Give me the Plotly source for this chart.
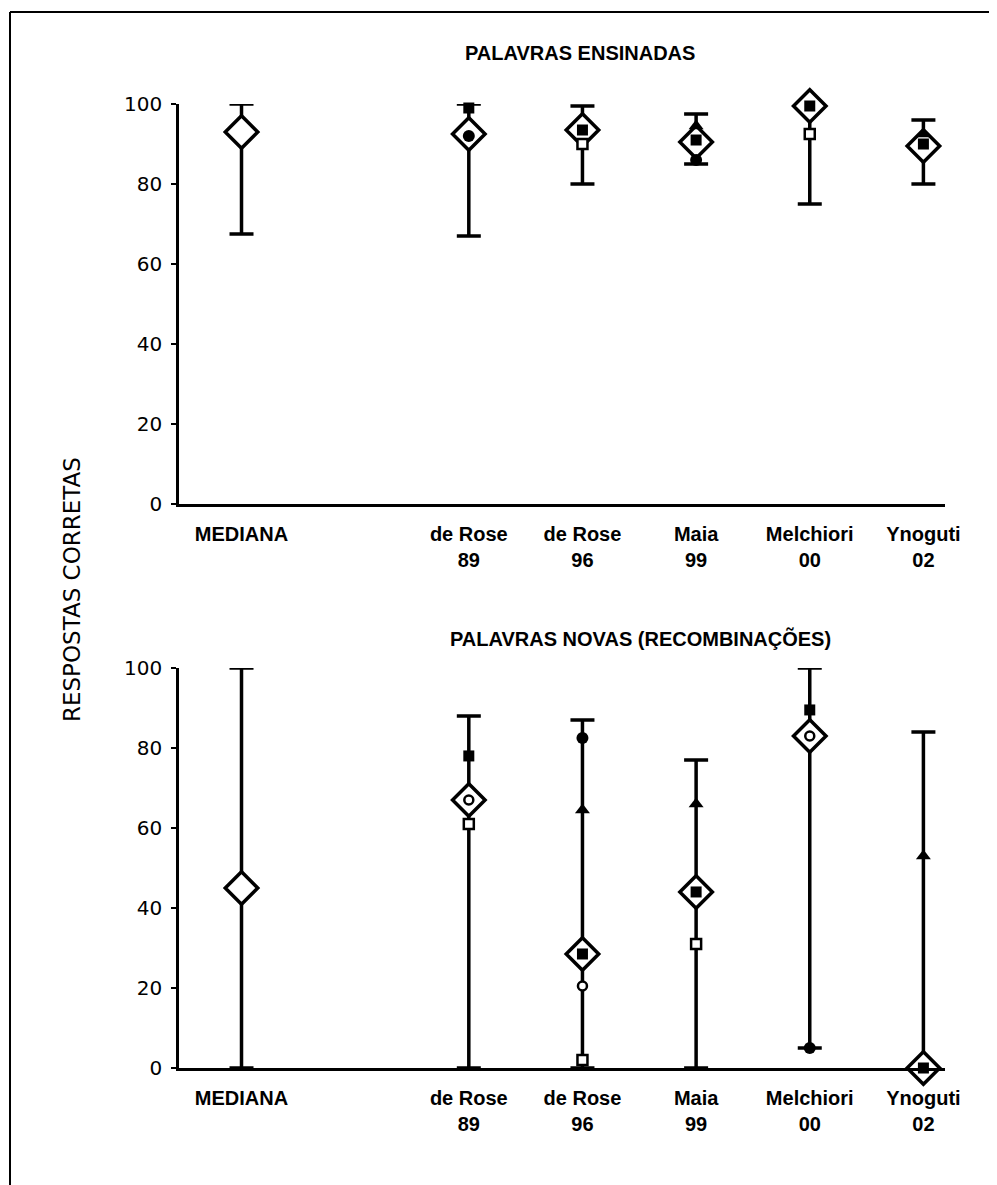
import plotly.graph_objects as go
from plotly.subplots import make_subplots

categories = ["MEDIANA", "de Rose<br>89", "de Rose<br>96", "Maia<br>99", "Melchiori<br>00", "Ynoguti<br>02"]
category_order = ["MEDIANA", " ", "de Rose<br>89", "de Rose<br>96", "Maia<br>99", "Melchiori<br>00", "Ynoguti<br>02"]

# Panel 1: PALAVRAS ENSINADAS
taught_low = [67.5, 67, 80, 85, 75, 80]
taught_high = [100, 100, 99.5, 97.5, 100, 96]
taught_median = [93, 92.5, 93.5, 90.5, 99.5, 89.5]
taught_fsquare = [None, 99, 93.5, 91, 99.5, 90]
taught_fcircle = [None, 92, None, 86, None, None]
taught_triangle = [None, None, None, 94.5, None, 92.5]
taught_osquare = [None, None, 90, None, 92.5, None]
taught_ocircle = [None, None, None, None, None, None]

# Panel 2: PALAVRAS NOVAS (RECOMBINAÇÕES)
new_low = [0, 0, 0, 0, 5, 0]
new_high = [100, 88, 87, 77, 100, 84]
new_median = [45, 67, 28.5, 44, 83, 0]
new_fsquare = [None, 78, 28.5, 44, 89.5, 0]
new_fcircle = [None, None, 82.5, None, 5, None]
new_triangle = [None, None, 64.5, 66, None, 53]
new_osquare = [None, 61, 2, 31, None, None]
new_ocircle = [None, 67, 20.5, None, 83, None]

yticks = [0, 20, 40, 60, 80, 100]

FONT = "Liberation Sans, Arial, sans-serif"
FONT_B = "Liberation Sans, Arial, sans-serif"
TICKFONT = "DejaVu Sans, sans-serif"

fig = make_subplots(rows=2, cols=1, vertical_spacing=0.17)

def add_panel(row, low, high, median, fsq, fci, tri, osq, oci):
    fig.add_trace(go.Scatter(
        x=categories, y=low, mode="markers",
        marker=dict(size=1, color="rgba(0,0,0,0)"),
        error_y=dict(type="data", symmetric=False,
                     array=[h - l for h, l in zip(high, low)],
                     arrayminus=[0] * len(low),
                     width=12, thickness=3.5, color="black"),
        cliponaxis=False, showlegend=False, hoverinfo="skip"), row=row, col=1)
    fig.add_trace(go.Scatter(
        x=categories, y=median, mode="markers",
        marker=dict(symbol="diamond", size=25, color="white",
                    line=dict(color="black", width=3.5)),
        cliponaxis=False, showlegend=False), row=row, col=1)
    fig.add_trace(go.Scatter(
        x=categories, y=fsq, mode="markers",
        marker=dict(symbol="square", size=11, color="black"),
        cliponaxis=False, showlegend=False), row=row, col=1)
    fig.add_trace(go.Scatter(
        x=categories, y=fci, mode="markers",
        marker=dict(symbol="circle", size=12, color="black"),
        cliponaxis=False, showlegend=False), row=row, col=1)
    fig.add_trace(go.Scatter(
        x=categories, y=tri, mode="markers",
        marker=dict(symbol="triangle-up", size=13, color="black"),
        cliponaxis=False, showlegend=False), row=row, col=1)
    fig.add_trace(go.Scatter(
        x=categories, y=osq, mode="markers",
        marker=dict(symbol="square", size=10, color="white",
                    line=dict(color="black", width=2.5)),
        cliponaxis=False, showlegend=False), row=row, col=1)
    fig.add_trace(go.Scatter(
        x=categories, y=oci, mode="markers",
        marker=dict(symbol="circle", size=9, color="white",
                    line=dict(color="black", width=2.5)),
        cliponaxis=False, showlegend=False), row=row, col=1)

add_panel(1, taught_low, taught_high, taught_median, taught_fsquare,
          taught_fcircle, taught_triangle, taught_osquare, taught_ocircle)
add_panel(2, new_low, new_high, new_median, new_fsquare,
          new_fcircle, new_triangle, new_osquare, new_ocircle)

for r, dom in ((1, [0.585, 1.0]), (2, [0.0, 0.415])):
    fig.update_xaxes(type="category", categoryorder="array", categoryarray=category_order,
                     range=[-0.55, 6.19], showline=True, linecolor="black", linewidth=2.5,
                     showgrid=False, zeroline=False, ticks="", ticklabelstandoff=10,
                     tickfont=dict(family=FONT_B, size=20, color="black", weight="bold"),
                     row=r, col=1)
    fig.update_yaxes(range=[0, 100], tickvals=yticks, showline=True, linecolor="black",
                     linewidth=2.5, showgrid=False, zeroline=False, ticks="outside",
                     ticklen=5, tickwidth=2, tickcolor="black", ticklabelstandoff=5,
                     tickfont=dict(family=TICKFONT, size=20, color="black"),
                     domain=dom, row=r, col=1)

fig.update_layout(
    width=989, height=1177,
    margin=dict(l=171, r=52, t=96, b=117),
    plot_bgcolor="white", paper_bgcolor="white",
    font=dict(family=FONT, color="black"),
    annotations=[
        dict(text="<b>PALAVRAS ENSINADAS</b>", x=(580 - 179) / 766, y=1 + (104 - 53) / 964,
             xref="paper", yref="paper", showarrow=False, xanchor="center", yanchor="middle",
             font=dict(family=FONT_B, size=20, color="black")),
        dict(text="<b>PALAVRAS NOVAS (RECOMBINAÇÕES)</b>", x=(640 - 179) / 766, y=1 - (638 - 104) / 964,
             xref="paper", yref="paper", showarrow=False, xanchor="center", yanchor="middle",
             font=dict(family=FONT_B, size=20, color="black")),
        dict(text="RESPOSTAS CORRETAS", x=(72 - 179) / 766, y=1 - (590 - 104) / 964,
             xref="paper", yref="paper", showarrow=False, textangle=-90,
             xanchor="center", yanchor="middle",
             font=dict(family=TICKFONT, size=23, color="black")),
    ],
    shapes=[
        dict(type="line", xref="paper", yref="paper",
             x0=(10 - 179) / 766, x1=(1000 - 179) / 766,
             y0=1 + (104 - 12) / 964, y1=1 + (104 - 12) / 964,
             line=dict(color="black", width=2)),
        dict(type="line", xref="paper", yref="paper",
             x0=(10 - 179) / 766, x1=(10 - 179) / 766,
             y0=1 + (104 - 12) / 964, y1=-(1190 - 1068) / 964,
             line=dict(color="black", width=2)),
    ],
)

fig.write_html("out.html")
